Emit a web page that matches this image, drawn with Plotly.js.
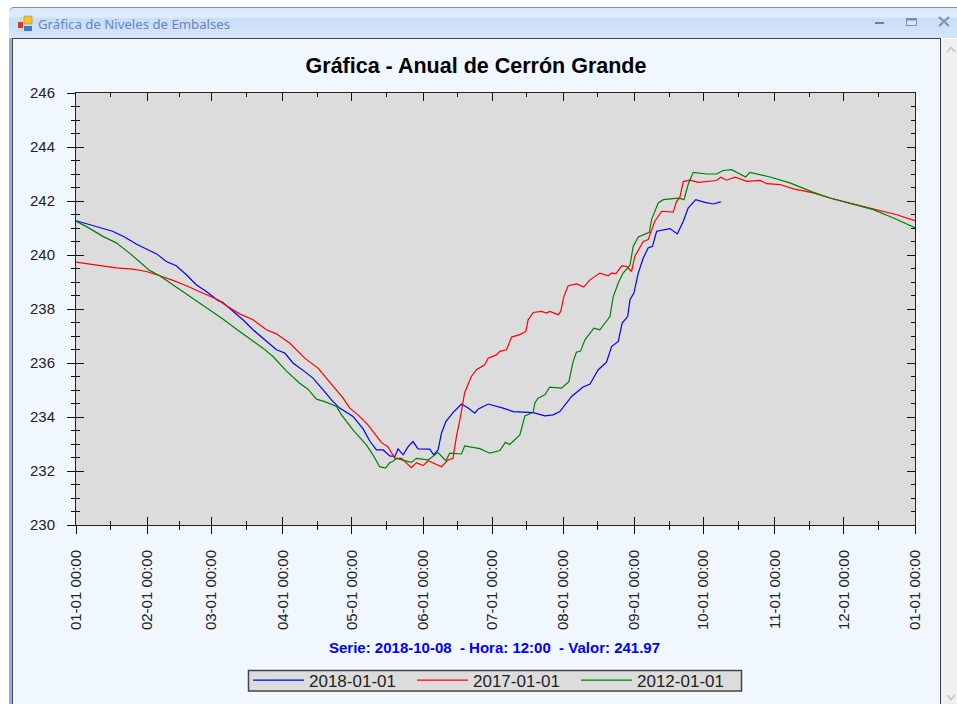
<!DOCTYPE html>
<html>
<head>
<meta charset="utf-8">
<script src="https://cdn.plot.ly/plotly-3.0.1.min.js"></script>
<style>
html,body{margin:0;padding:0;width:957px;height:704px;overflow:hidden;background:#fff;}
#titlebar{position:absolute;left:9px;top:7px;width:948px;height:31px;background:linear-gradient(#dbe8f9 0%,#dfebfb 30%,#c9ddf7 36%,#d6e5f9 100%);border-top:1px solid #7b93ad;border-top-left-radius:5px;box-sizing:border-box;}
#wintitle{position:absolute;left:38px;top:15px;font:13.2px "Noto Sans",sans-serif;color:#6583c6;white-space:nowrap;}
#leftedge{position:absolute;left:9px;top:38px;width:3px;height:666px;background:#8fb0d8;}
#panel{position:absolute;left:12px;top:38px;width:929px;height:666px;background:#f0f7ff;border:1px solid #3c4650;border-bottom:none;box-sizing:border-box;}
#scroll{position:absolute;left:941px;top:39px;width:16px;height:665px;background:#f0f0f0;}
#chart{position:absolute;left:0;top:0;width:957px;height:704px;}
#chrome{position:absolute;left:0;top:0;}
</style>
</head>
<body>
<div id="titlebar"></div>
<div id="leftedge"></div>
<div id="panel"></div>
<div id="scroll"></div>
<svg id="chrome" width="957" height="704">
  <rect x="17" y="17" width="15" height="15" fill="#d4dae2"/>
  <rect x="18" y="22" width="5" height="6" fill="#d83a2a"/>
  <rect x="24" y="16" width="8" height="8" fill="#f2c230" stroke="#b58a20" stroke-width="0.6"/>
  <rect x="24" y="26" width="8" height="5" fill="#3d78cc"/>
  <rect x="875" y="22" width="9" height="2" fill="#6f8296"/>
  <rect x="906.5" y="18.5" width="10" height="7" fill="#dbe6f4" stroke="#8194aa"/>
  <rect x="906" y="18" width="11" height="2.5" fill="#7a8ea6"/>
  <path d="M939 17 L949 26 M949 17 L939 26" stroke="#7e92aa" stroke-width="2.2" fill="none"/>
  <path d="M947 52 L951 47.5 L955 52" stroke="#c4c4c4" stroke-width="1.6" fill="none"/>
  <path d="M947 695 L951 699.5 L955 695" stroke="#c4c4c4" stroke-width="1.6" fill="none"/>
</svg>
<div id="wintitle">Gráfica de Niveles de Embalses</div>
<div id="chart"></div>
<script>
var chartTitle = "Gráfica - Anual de Cerrón Grande";
var statusText = "Serie: 2018-10-08  - Hora: 12:00  - Valor: 241.97";
var seriesNames = ["2018-01-01", "2017-01-01", "2012-01-01"];
var seriesColors = ["#0000ff", "#ff0000", "#008000"];
var yearStart = "2018-01-01";
var yearEnd = "2019-01-01";
var monthStarts = ["2018-01-01","2018-02-01","2018-03-01","2018-04-01","2018-05-01","2018-06-01","2018-07-01","2018-08-01","2018-09-01","2018-10-01","2018-11-01","2018-12-01","2019-01-01"];
var midMonths = ["2018-01-16","2018-02-15","2018-03-16","2018-04-16","2018-05-16","2018-06-16","2018-07-16","2018-08-16","2018-09-16","2018-10-16","2018-11-16","2018-12-16"];

var days2018 = [0,5.9,11.5,15.9,21.1,26.2,30.6,34.9,39.3,43.6,48,52.3,56.7,61.7,63.9,68.3,72.6,77,82.8,87.2,90.8,94.4,99.5,103.1,107.4,111.8,114.7,120.5,124.9,127.8,130.7,133.6,136.5,138.7,140.1,142.3,144.5,146.6,148.8,153.9,155.6,157.5,159,160.9,164,167.7,170.6,173.5,174.9,179.3,185.8,190.2,198.9,204,207.6,210.5,215.6,220.6,223.6,227.2,230.8,233,235.9,237.6,240,241,242.7,244.6,246.8,248.9,250.8,252.6,258.4,261.6,264.2,266.3,269.6,273.6,277.2,280.5];
var levels2018 = [241.27,241.12,241,240.88,240.67,240.41,240.22,240.05,239.76,239.6,239.27,238.9,238.65,238.32,238.24,237.91,237.6,237.23,236.8,236.49,236.37,236,235.68,235.44,235.01,234.57,234.33,234.02,233.56,233.11,232.78,232.78,232.56,232.53,232.82,232.6,232.9,233.09,232.82,232.81,232.6,232.78,233.4,233.83,234.16,234.48,234.33,234.14,234.29,234.48,234.33,234.2,234.16,234.04,234.08,234.2,234.76,235.11,235.22,235.75,236.03,236.61,236.8,237.48,237.72,238.34,238.59,239.33,239.89,240.26,240.32,240.88,240.98,240.78,241.25,241.74,242.05,241.95,241.89,241.97];

var days2017 = [0,5.9,11.7,17.5,24.7,30.6,36.4,42.2,48,53.8,61.7,65.4,71.2,77,82.8,87.2,92.9,99.5,105.3,108.9,116.2,119.1,122.7,127,132.9,135.7,138.7,141.6,145.9,148.1,151,153.2,159,161.9,164,165.5,167,169.1,172,174.2,177.8,179.3,182.9,184.4,187.3,189.5,193.1,195.7,196.7,198.9,202.5,204.7,206.1,209.8,210.9,212.2,214.1,217.8,220.9,223.6,227.9,231.5,233,234.9,237.4,239.5,241.7,243.1,246.8,248.9,251.8,254.8,259.8,261.3,262.7,264.2,267.1,270.7,278.7,280.5,283,286.7,291.8,297.6,300.5,306.3,312.1,320.8,328,335.3,342.5,349.8,357.1,365];
var levels2017 = [239.74,239.67,239.6,239.52,239.48,239.39,239.23,239.06,238.86,238.65,238.34,238.12,237.82,237.6,237.23,237.08,236.74,236.18,235.81,235.44,234.7,234.33,234.08,233.71,233.05,232.9,232.47,232.47,232.12,232.31,232.2,232.38,232.16,232.41,232.47,233.27,233.89,234.91,235.5,235.75,235.93,236.18,236.3,236.43,236.49,236.96,237.05,237.17,237.6,237.87,237.91,237.85,237.91,237.79,237.91,238.45,238.86,238.93,238.81,239.08,239.33,239.23,239.33,239.31,239.6,239.58,239.39,239.95,240.5,240.57,241.25,241.62,241.59,241.99,242.13,242.72,242.77,242.69,242.76,242.88,242.77,242.88,242.73,242.76,242.64,242.61,242.45,242.3,242.11,241.95,241.8,241.65,241.49,241.27];

var days2012 = [0,4.4,11.7,17.5,23.3,27.6,32,36.4,42.1,48,55.2,61.7,63.9,69.7,75.5,81.3,85.7,91.5,97.3,100.9,104.6,108.2,113.3,115.5,120.5,126.3,129.2,132.1,134.7,136.5,137.9,139.4,145.9,148.1,153.2,157.5,160.9,162.6,167.7,169.1,175.7,180,184.4,186.8,188.7,193.1,195.3,198.9,199.6,201,204,206.1,211.2,214.4,216.3,217.7,219.5,221.4,225.3,227.9,232.3,233.7,235.9,238,241,242.4,244.6,249.4,250.4,253.3,255.5,262,264.5,266.3,268.5,274.4,278.7,281.5,285.2,291.3,293.2,301.9,310.6,320.8,328,338.2,346.9,355.6,365];
var levels2012 = [241.25,241.06,240.69,240.45,240.07,239.76,239.43,239.23,238.9,238.57,238.12,237.75,237.63,237.26,236.92,236.55,236.24,235.71,235.25,235.03,234.66,234.57,234.39,234.08,233.52,232.97,232.6,232.16,232.11,232.31,232.35,232.47,232.32,232.47,232.41,232.68,232.38,232.66,232.63,232.93,232.83,232.66,232.76,233.06,232.98,233.34,234.04,234.17,234.51,234.7,234.82,235.11,235.07,235.31,236.06,236.4,236.44,236.86,237.29,237.23,237.72,238.45,238.96,239.33,239.62,240.32,240.67,240.84,241.31,241.93,242.05,242.11,242.05,242.61,243.06,243,243,243.13,243.16,242.89,243.06,242.89,242.67,242.32,242.11,241.87,241.68,241.37,241.01];

function toDates(days){
  return days.map(function(d){ return new Date(Date.UTC(2018,0,1)+d*86400000).toISOString(); });
}
var allDays = [days2018, days2017, days2012];
var allLevels = [levels2018, levels2017, levels2012];
var traces = allDays.map(function(d,i){
  return {x:toDates(d), y:allLevels[i], type:"scatter", mode:"lines", name:seriesNames[i],
          line:{color:seriesColors[i], width:1.2}, hoverinfo:"skip"};
});
traces.push({x:[], y:[], xaxis:"x2", yaxis:"y2", type:"scatter", mode:"lines", showlegend:false, hoverinfo:"skip"});

var textFont = "Liberation Sans, Arial, sans-serif";
var baseX = {type:"date", range:[yearStart,yearEnd], tickmode:"array", tickvals:monthStarts,
             tickformat:"%m-%d %H:%M", showgrid:false, zeroline:false, showline:true, linecolor:"#222", linewidth:1,
             ticklen:8, tickwidth:1, tickcolor:"#111"};
var baseY = {range:[230,246], dtick:2, tick0:230, showgrid:false, zeroline:false, showline:true, linecolor:"#222", linewidth:1,
             ticklen:8, tickwidth:1, tickcolor:"#111"};

var layout = {
  width:957, height:704,
  margin:{l:76, r:42, t:93, b:179, autoexpand:false},
  paper_bgcolor:"rgba(0,0,0,0)", plot_bgcolor:"#dcdcdc",
  font:{family:textFont, color:"#222"},
  title:{text:"<b>"+chartTitle+"</b>", font:{family:textFont, size:21.5, color:"#000"}, x:476/957, xanchor:"center", y:1-65/704, yanchor:"middle"},
  xaxis:Object.assign({}, baseX, {ticks:"outside", side:"bottom", tickangle:-90, tickfont:{family:textFont,size:15,color:"#222"}, ticklabelstandoff:10,
         minor:{ticks:"outside", ticklen:4, tickwidth:1, tickcolor:"#111", tickmode:"array", tickvals:midMonths, showgrid:false}}),
  yaxis:Object.assign({}, baseY, {ticks:"outside", tickfont:{family:textFont,size:15,color:"#222"}, ticklabelstandoff:9,
         minor:{ticks:"outside", ticklen:4, tickwidth:1, tickcolor:"#111", dtick:0.5, showgrid:false}}),
  xaxis2:Object.assign({}, baseX, {overlaying:"x", anchor:"y2", ticks:"inside", showticklabels:false, mirror:"allticks",
         minor:{ticks:"inside", ticklen:4, tickwidth:1, tickcolor:"#111", tickmode:"array", tickvals:midMonths, showgrid:false}}),
  yaxis2:Object.assign({}, baseY, {overlaying:"y", anchor:"x2", ticks:"inside", showticklabels:false, mirror:"allticks",
         minor:{ticks:"inside", ticklen:4, tickwidth:1, tickcolor:"#111", dtick:0.5, showgrid:false}}),
  showlegend:true,
  legend:{orientation:"h", x:(248-76)/839, xanchor:"left", y:(525-662.5)/432, yanchor:"top",
          bgcolor:"rgba(0,0,0,0)", borderwidth:0, itemwidth:51, entrywidth:98, entrywidthmode:"pixels",
          font:{family:textFont,size:17,color:"#222"}, traceorder:"normal", itemclick:false, itemdoubleclick:false},
  shapes:[{type:"rect", xref:"paper", yref:"paper", x0:(248.5-76)/839, x1:(741.5-76)/839, y0:(525-670.5)/432, y1:(525-691)/432,
           fillcolor:"#dcdcdc", line:{color:"#444", width:1.5}, layer:"below"}],
  annotations:[{text:"<b>"+statusText.replace(/  /g,"&nbsp; ")+"</b>", xref:"paper", yref:"paper", x:(494.5-76)/839, y:(525-647)/432,
                xanchor:"center", yanchor:"middle", showarrow:false, font:{family:textFont,size:15,color:"#0000ff"}}]
};
Plotly.newPlot("chart", traces, layout, {displayModeBar:false, responsive:false});
</script>
</body>
</html>
